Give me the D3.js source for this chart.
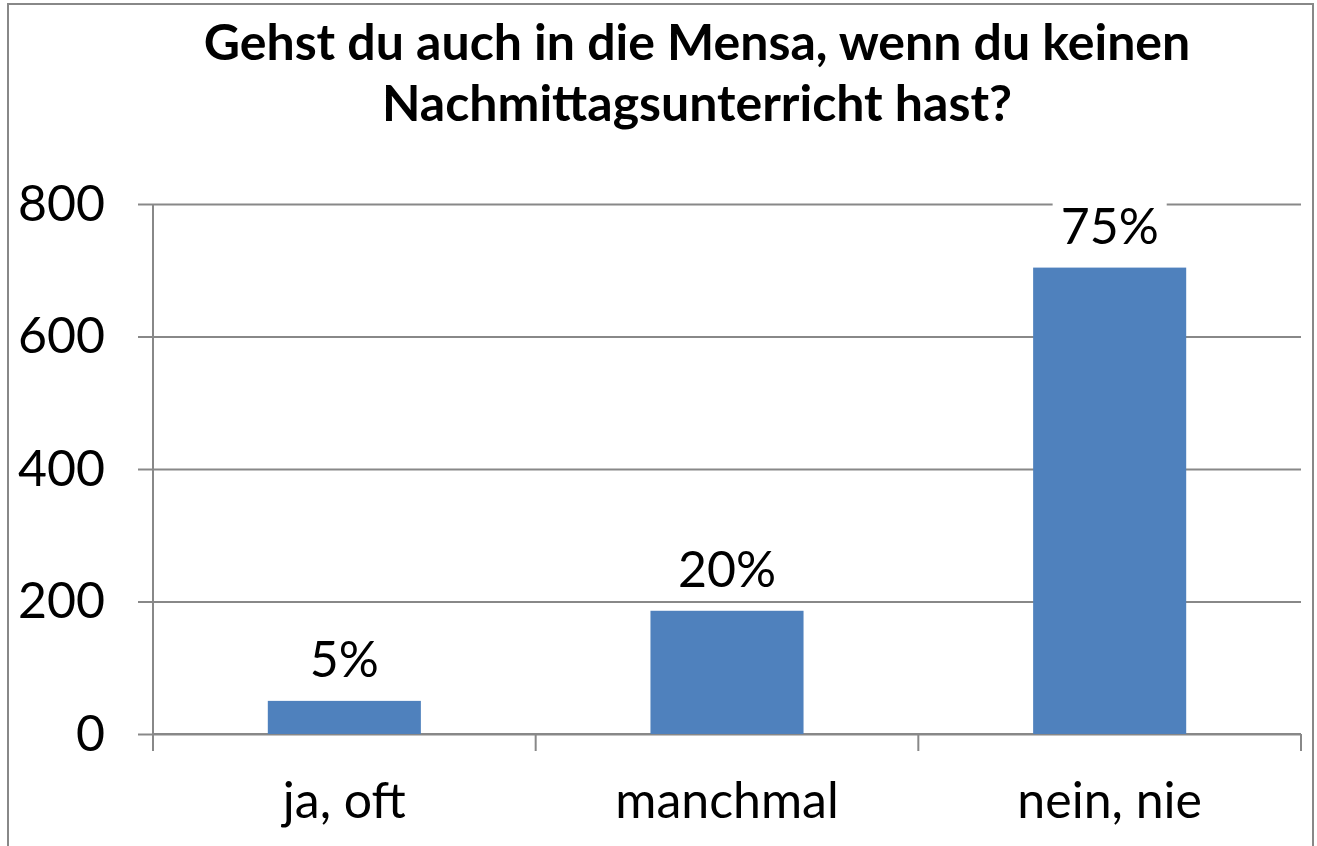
<!DOCTYPE html>
<html>
<head>
    <meta charset="utf-8">
    <title>Mensa</title>
    <script src="https://cdn.jsdelivr.net/npm/d3@7"></script>
    <style type="text/css">
        body {
            margin: 0;
            background: #fff;
        }
        .axis path,
        .axis line {
            fill: none;
            stroke: #888;
            stroke-width: 2px;
        }
        .axis text,
        .label {
            font-family: Lato, "Open Sans", sans-serif;
            font-size: 50px;
            fill: #000;
        }
    </style>
</head>
<body>
    <div id="chart"></div>

    <script type="text/javascript">
        var categories = ["ja, oft", "manchmal", "nein, nie"];
        var counts = [50, 186, 704];
        var percentLabels = ["5%", "20%", "75%"];
        var yTicks = [0, 200, 400, 600, 800];
        var titleLines = ["Gehst du auch in die Mensa, wenn du keinen", "Nachmittagsunterricht hast?"];

        var w = 1317;
        var h = 846;
        var plotLeft = 153, plotRight = 1301, plotTop = 204, plotBottom = 734;

        var svg = d3.select("#chart")
            .append("svg")
            .attr("width", w)
            .attr("height", h);

        // chart frame
        svg.append("rect")
            .attr("x", 8)
            .attr("y", 4)
            .attr("width", 1305)
            .attr("height", 860)
            .attr("fill", "none")
            .attr("stroke", "#888")
            .attr("stroke-width", 2);

        var xScale = d3.scaleBand()
            .domain(categories)
            .range([plotLeft, plotRight])
            .paddingInner(0.6)
            .paddingOuter(0.3);

        var yScale = d3.scaleLinear()
            .domain([0, 800])
            .range([plotBottom, plotTop]);

        // gridlines
        svg.append("g")
            .attr("class", "grid axis")
            .attr("transform", "translate(" + plotLeft + ",0)")
            .call(d3.axisLeft(yScale).tickValues(yTicks).tickSize(-(plotRight - plotLeft)).tickFormat(""))
            .call(function (g) { g.select(".domain").remove(); });

        // y axis
        var yAxis = d3.axisLeft(yScale)
            .tickValues(yTicks)
            .tickSize(15)
            .tickPadding(33);
        svg.append("g")
            .attr("class", "y axis")
            .attr("transform", "translate(" + plotLeft + ",0)")
            .call(yAxis)
            .call(function (g) { g.select(".domain").attr("d", "M0," + plotTop + "V" + plotBottom); });

        // x axis, ticks on category boundaries
        var xLine = svg.append("g").attr("class", "x axis");
        xLine.append("path")
            .attr("d", "M" + plotLeft + "," + plotBottom + "H" + plotRight);
        var edges = categories.map(function (d) { return xScale(d) - xScale.step() * xScale.paddingInner() / 2; });
        edges[0] = plotLeft;
        edges.push(plotRight);
        xLine.selectAll("line")
            .data(edges)
            .enter()
            .append("line")
            .attr("x1", function (d) { return d; })
            .attr("x2", function (d) { return d; })
            .attr("y1", plotBottom)
            .attr("y2", plotBottom + 17);

        xLine.selectAll("text")
            .data(categories)
            .enter()
            .append("text")
            .attr("x", function (d) { return xScale(d) + xScale.bandwidth() / 2; })
            .attr("y", 818)
            .attr("text-anchor", "middle")
            .text(function (d) { return d; });

        // bars
        svg.selectAll("rect.bar")
            .data(counts)
            .enter()
            .append("rect")
            .attr("class", "bar")
            .attr("x", function (d, i) { return xScale(categories[i]); })
            .attr("y", function (d) { return yScale(d); })
            .attr("width", xScale.bandwidth())
            .attr("height", function (d) { return plotBottom - yScale(d); })
            .attr("fill", "#4F81BD");

        // data labels with white box
        var labels = svg.selectAll("g.lbl")
            .data(counts)
            .enter()
            .append("g")
            .attr("class", "lbl");
        labels.append("text")
            .attr("class", "label")
            .attr("x", function (d, i) { return xScale(categories[i]) + xScale.bandwidth() / 2; })
            .attr("y", function (d) { return yScale(d) - 24; })
            .attr("text-anchor", "middle")
            .text(function (d, i) { return percentLabels[i]; });
        labels.each(function () {
            var g = d3.select(this);
            var bb = g.select("text").node().getBBox();
            g.insert("rect", "text")
                .attr("x", bb.x - 8)
                .attr("y", bb.y - 2)
                .attr("width", bb.width + 16)
                .attr("height", bb.height + 4)
                .attr("fill", "#fff");
        });

        // title
        svg.selectAll("text.title")
            .data(titleLines)
            .enter()
            .append("text")
            .attr("class", "title")
            .attr("x", 697)
            .attr("y", function (d, i) { return 60 + i * 61; })
            .attr("text-anchor", "middle")
            .attr("font-family", "Lato, 'Open Sans', sans-serif")
            .attr("font-weight", "bold")
            .attr("font-size", "50px")
            .text(function (d) { return d; });
    </script>
</body>
</html>
